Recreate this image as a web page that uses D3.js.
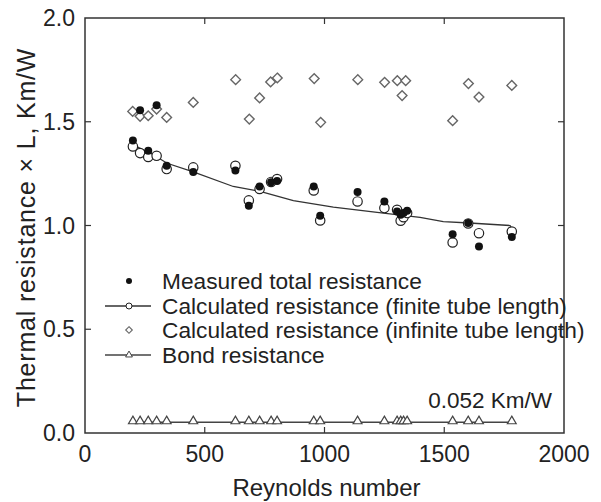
<!DOCTYPE html>
<html>
<head>
<meta charset="UTF-8">
<title>Thermal resistance vs Reynolds number</title>
<style type="text/css">
  body { margin: 0; background: #fff; }
  text { font-family: "Liberation Sans", Arial, sans-serif; fill: #222; }
</style>
</head>
<body>
<script src="https://d3js.org/d3.v7.min.js"></script>
<script>
// Reynolds numbers of the test runs (shared by all series)
var reynolds = [200, 230, 264, 299, 341, 452, 628, 684, 729, 777, 802, 955, 982, 1138, 1250, 1303, 1318, 1330, 1345, 1535, 1600, 1645, 1782];
// measured total resistance (filled dots)
var measured = [1.41, 1.555, 1.36, 1.58, 1.288, 1.258, 1.265, 1.095, 1.188, 1.209, 1.215, 1.188, 1.047, 1.161, 1.116, 1.068, 1.052, 1.06, 1.071, 0.958, 1.012, 0.899, 0.944];
// calculated resistance, finite tube length (open circles)
var finite = [1.381, 1.349, 1.33, 1.336, 1.272, 1.28, 1.288, 1.121, 1.176, 1.21, 1.224, 1.169, 1.024, 1.116, 1.084, 1.076, 1.023, 1.04, 1.06, 0.918, 1.01, 0.963, 0.971];
// calculated resistance, infinite tube length (diamonds)
var infReynolds = [199, 230, 264, 299, 341, 452, 629, 686, 729, 775, 803, 957, 984, 1139, 1251, 1304, 1324, 1339, 1535, 1601, 1645, 1782];
var infinite = [1.55, 1.526, 1.529, 1.561, 1.521, 1.593, 1.703, 1.513, 1.615, 1.692, 1.711, 1.708, 1.497, 1.703, 1.69, 1.698, 1.626, 1.698, 1.505, 1.684, 1.619, 1.675];
// fitted curve for the finite tube length model
var curveReynolds = [200, 300, 343, 452, 619, 731, 870, 1037, 1246, 1399, 1496, 1605, 1775, 1782];
var curveValue = [1.39, 1.33, 1.30, 1.258, 1.188, 1.164, 1.12, 1.089, 1.06, 1.039, 1.019, 1.012, 1.0, 0.98];
// bond resistance
var bond = 0.052;

var xTicks = [0, 500, 1000, 1500, 2000];
var yTicks = [0.0, 0.5, 1.0, 1.5, 2.0];
var legendLabels = ["Measured total resistance", "Calculated resistance (finite tube length)", "Calculated resistance (infinite tube length)", "Bond resistance"];

var W = 601, H = 502;
var margin = {top: 18, right: 37, bottom: 69, left: 85};
var width = W - margin.left - margin.right;
var height = H - margin.top - margin.bottom;

var svg = d3.select("body").append("svg")
    .attr("width", W)
    .attr("height", H)
  .append("g")
    .attr("transform", "translate(" + margin.left + "," + margin.top + ")");

var x = d3.scaleLinear().domain([0, 2000]).range([0, width]);
var y = d3.scaleLinear().domain([0, 2]).range([height, 0]);

// frame
svg.append("rect")
    .attr("width", width).attr("height", height)
    .attr("fill", "none").attr("stroke", "#333").attr("stroke-width", 1.5);

// inward ticks on all four sides
var tickLen = 6;
var innerX = xTicks.slice(1, -1), innerY = yTicks.slice(1, -1);
innerX.forEach(function(v) {
  svg.append("line").attr("x1", x(v)).attr("x2", x(v)).attr("y1", height).attr("y2", height - tickLen)
     .attr("stroke", "#333").attr("stroke-width", 1.2);
  svg.append("line").attr("x1", x(v)).attr("x2", x(v)).attr("y1", 0).attr("y2", tickLen)
     .attr("stroke", "#333").attr("stroke-width", 1.2);
});
innerY.forEach(function(v) {
  svg.append("line").attr("x1", 0).attr("x2", tickLen).attr("y1", y(v)).attr("y2", y(v))
     .attr("stroke", "#333").attr("stroke-width", 1.2);
  svg.append("line").attr("x1", width).attr("x2", width - tickLen).attr("y1", y(v)).attr("y2", y(v))
     .attr("stroke", "#333").attr("stroke-width", 1.2);
});

// tick labels
svg.selectAll(".xlab").data(xTicks).enter().append("text")
    .attr("x", function(d) { return x(d); })
    .attr("y", height + 29)
    .attr("text-anchor", "middle")
    .style("font-size", "23px")
    .text(function(d) { return d; });
svg.selectAll(".ylab").data(yTicks).enter().append("text")
    .attr("x", -10)
    .attr("y", function(d) { return y(d); })
    .attr("dy", "0.35em")
    .attr("text-anchor", "end")
    .style("font-size", "23px")
    .text(function(d) { return d.toFixed(1); });

// axis titles
svg.append("text")
    .attr("x", width / 2 + 2)
    .attr("y", height + 63)
    .attr("text-anchor", "middle")
    .style("font-size", "24px")
    .text("Reynolds number");
svg.append("text")
    .attr("transform", "translate(" + (-50) + "," + (height / 2 + 2) + ") rotate(-90)")
    .attr("text-anchor", "middle")
    .style("font-size", "25px")
    .style("letter-spacing", "0.8px")
    .text("Thermal resistance \u00d7 L, Km/W");

// bond resistance line + triangles
svg.append("line")
    .attr("x1", x(d3.min(reynolds))).attr("x2", x(d3.max(reynolds)))
    .attr("y1", y(bond)).attr("y2", y(bond))
    .attr("stroke", "#444").attr("stroke-width", 1.5);
var tri = d3.symbol().type(d3.symbolTriangle).size(34);
svg.selectAll(".tri").data(reynolds).enter().append("path")
    .attr("d", tri)
    .attr("transform", function(d) { return "translate(" + x(d) + "," + (y(bond) - 1) + ")"; })
    .attr("fill", "#fff").attr("stroke", "#444").attr("stroke-width", 1.2);

svg.append("text")
    .attr("x", x(1950)).attr("y", y(bond) - 14)
    .attr("text-anchor", "end")
    .style("font-size", "22.5px")
    .text("0.052 Km/W");

// fitted curve
var curve = d3.line()
    .x(function(d) { return x(d[0]); })
    .y(function(d) { return y(d[1]); });
svg.append("path")
    .datum(d3.zip(curveReynolds, curveValue))
    .attr("d", curve)
    .attr("fill", "none").attr("stroke", "#333").attr("stroke-width", 1.3);

// diamonds
var dia = d3.symbol().type(d3.symbolDiamond2).size(60);
svg.selectAll(".dia").data(d3.zip(infReynolds, infinite)).enter().append("path")
    .attr("d", dia)
    .attr("transform", function(d) { return "translate(" + x(d[0]) + "," + y(d[1]) + ")"; })
    .attr("fill", "#fff").attr("stroke", "#666").attr("stroke-width", 1.4);

// open circles
svg.selectAll(".open").data(d3.zip(reynolds, finite)).enter().append("circle")
    .attr("cx", function(d) { return x(d[0]); })
    .attr("cy", function(d) { return y(d[1]); })
    .attr("r", 4.7)
    .attr("fill", "#fff").attr("stroke", "#222").attr("stroke-width", 1.2);

// filled dots
svg.selectAll(".filled").data(d3.zip(reynolds, measured)).enter().append("circle")
    .attr("cx", function(d) { return x(d[0]); })
    .attr("cy", function(d) { return y(d[1]); })
    .attr("r", 4)
    .attr("fill", "#111");

// legend
var lg = svg.append("g");
var rowY = [263, 288, 312, 337];
var symX = 44, textX = 77;
legendLabels.forEach(function(lab, i) {
  lg.append("text")
    .attr("x", textX).attr("y", rowY[i])
    .attr("dy", "0.35em")
    .style("font-size", "22.7px")
    .text(lab);
});
lg.append("circle").attr("cx", symX).attr("cy", rowY[0]).attr("r", 3).attr("fill", "#111");
lg.append("line").attr("x1", symX - 24).attr("x2", symX + 22).attr("y1", rowY[1]).attr("y2", rowY[1])
  .attr("stroke", "#333").attr("stroke-width", 1.3);
lg.append("circle").attr("cx", symX).attr("cy", rowY[1]).attr("r", 3).attr("fill", "#fff")
  .attr("stroke", "#222").attr("stroke-width", 1);
lg.append("path").attr("d", d3.symbol().type(d3.symbolDiamond2).size(28))
  .attr("transform", "translate(" + symX + "," + rowY[2] + ")")
  .attr("fill", "#fff").attr("stroke", "#666").attr("stroke-width", 1.1);
lg.append("line").attr("x1", symX - 24).attr("x2", symX + 22).attr("y1", rowY[3]).attr("y2", rowY[3])
  .attr("stroke", "#444").attr("stroke-width", 1.3);
lg.append("path").attr("d", d3.symbol().type(d3.symbolTriangle).size(20))
  .attr("transform", "translate(" + symX + "," + rowY[3] + ")")
  .attr("fill", "#fff").attr("stroke", "#444").attr("stroke-width", 1);
</script>
</body>
</html>
